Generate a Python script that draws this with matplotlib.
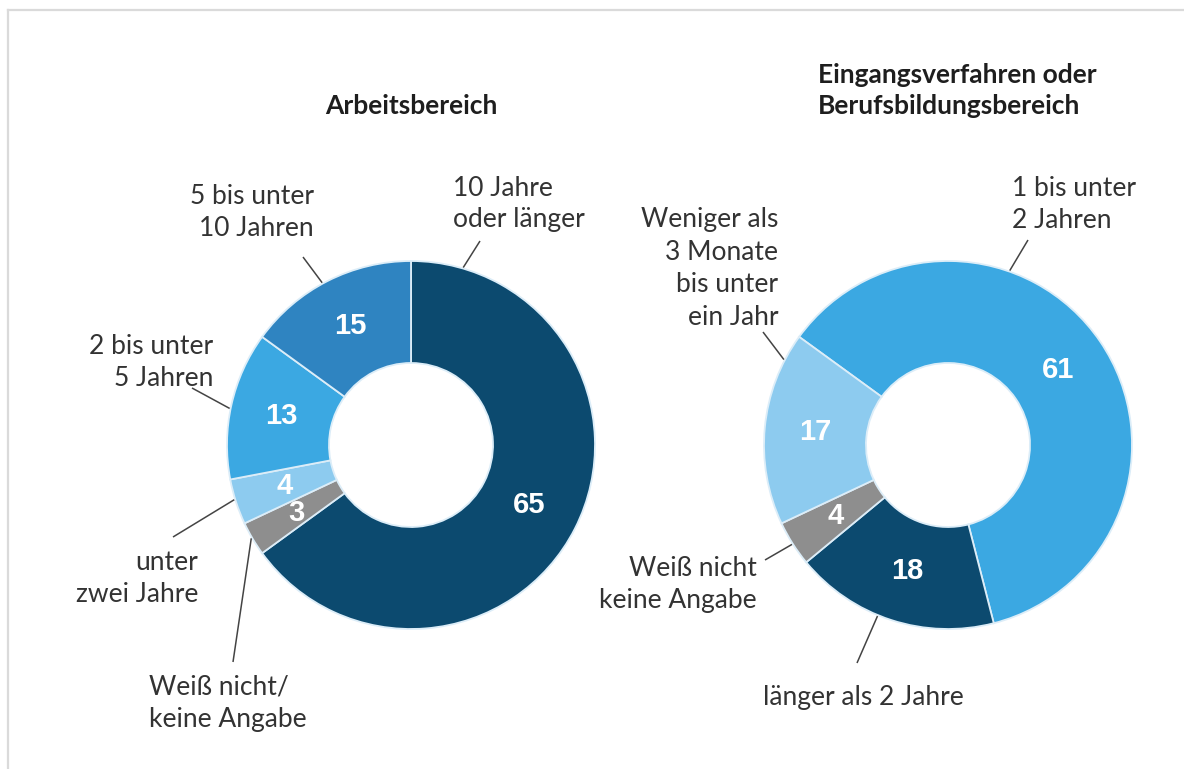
import matplotlib
matplotlib.use("Agg")
import matplotlib.pyplot as plt
import numpy as np

W, H = 1184, 769

# data
left_title = "Arbeitsbereich"
left_values = [65, 3, 4, 13, 15]
left_labels = ["10 Jahre\noder länger", "Weiß nicht/\nkeine Angabe", "unter\nzwei Jahre",
               "2 bis unter\n5 Jahren", "5 bis unter\n10 Jahren"]
left_colors = ["#0c4a6f", "#8e8e8e", "#8dcbef", "#3ba8e2", "#2f84c1"]

right_title = "Eingangsverfahren oder\nBerufsbildungsbereich"
right_values = [61, 18, 4, 17]
right_labels = ["1 bis unter\n2 Jahren", "länger als 2 Jahre", "Weiß nicht\nkeine Angabe",
                "Weniger als\n3 Monate\nbis unter\nein Jahr"]
right_colors = ["#3ba8e2", "#0c4a6f", "#8e8e8e", "#8dcbef"]

TXT = "#333333"
FONT = ["Lato", "DejaVu Sans"]
NUMFONT = ["Liberation Sans", "DejaVu Sans"]

fig = plt.figure(figsize=(W / 100, H / 100), dpi=100)
ax = fig.add_axes([0, 0, 1, 1])

R, r = 184, 82


def Y(y):
    return H - y


def donut(values, colors, cx, cy, start):
    wedges, _ = ax.pie(values, radius=R, center=(cx, Y(cy)), startangle=start,
                       counterclock=False, colors=colors,
                       wedgeprops=dict(width=R - r, edgecolor="#dcedf8", linewidth=1.3))
    for w, v in zip(wedges, values):
        a = np.deg2rad((w.theta1 + w.theta2) / 2)
        d = (R + r) / 2
        ax.text(cx + d * np.cos(a), Y(cy) + d * np.sin(a), str(v), color="white",
                fontsize=21, fontweight="bold", family=NUMFONT, ha="center", va="center")
    return wedges


def label(text, x, y0, ha, step=32, bold=False, size=19, color=TXT):
    for i, line in enumerate(text.split("\n")):
        ax.text(x, Y(y0 + i * step), line, ha=ha, va="center", color=color,
                fontsize=size, family=FONT, fontweight="bold" if bold else "normal")


def leader(cx, cy, ang, x2, y2):
    a = np.deg2rad(ang)
    ax.plot([cx + (R + 1) * np.cos(a), x2], [Y(cy) + (R + 1) * np.sin(a), Y(y2)],
            color="#444444", lw=1.1, solid_capstyle="butt")


# left donut
lcx, lcy = 411, 445
donut(left_values, left_colors, lcx, lcy, 90)
label(left_title, 411, 106, "center", bold=True, size=19, color="#1e1e1e")
left_pos = [(453, 188, "left"), (149, 687, "left"), (198, 563, "right"),
            (213, 346, "right"), (314, 196, "right")]
left_lines = [(73.6, 480, 241), (210.3, 233, 662), (197.2, 173, 537),
              (168.6, 192, 388), (118.7, 303, 257)]
for t, (x, y, ha), (ang, x2, y2) in zip(left_labels, left_pos, left_lines):
    label(t, x, y, ha)
    leader(lcx, lcy, ang, x2, y2)

# right donut
rcx, rcy = 948, 445
donut(right_values, right_colors, rcx, rcy, 144)
label(right_title, 818, 75, "left", step=31, bold=True, size=19, color="#1e1e1e")
right_pos = [(1012, 188, "left"), (763, 697, "left"), (757, 568, "right"), (778, 220, "right")]
right_lines = [(70.5, 1028, 240), (247.6, 857, 663), (212.5, 765, 560), (152.5, 763, 332)]
for t, (x, y, ha), (ang, x2, y2) in zip(right_labels, right_pos, right_lines):
    label(t, x, y, ha, step=32.5)
    leader(rcx, rcy, ang, x2, y2)

# frame lines
ax.plot([7.5, 7.5], [0, Y(10)], color="#dadada", lw=1.6, clip_on=False)
ax.plot([7.5, W], [Y(10), Y(10)], color="#dadada", lw=1.6, clip_on=False)

ax.set_xlim(0, W)
ax.set_ylim(0, H)
ax.set_aspect("auto")
ax.set_axis_off()

fig.savefig("out.png", dpi=100)
